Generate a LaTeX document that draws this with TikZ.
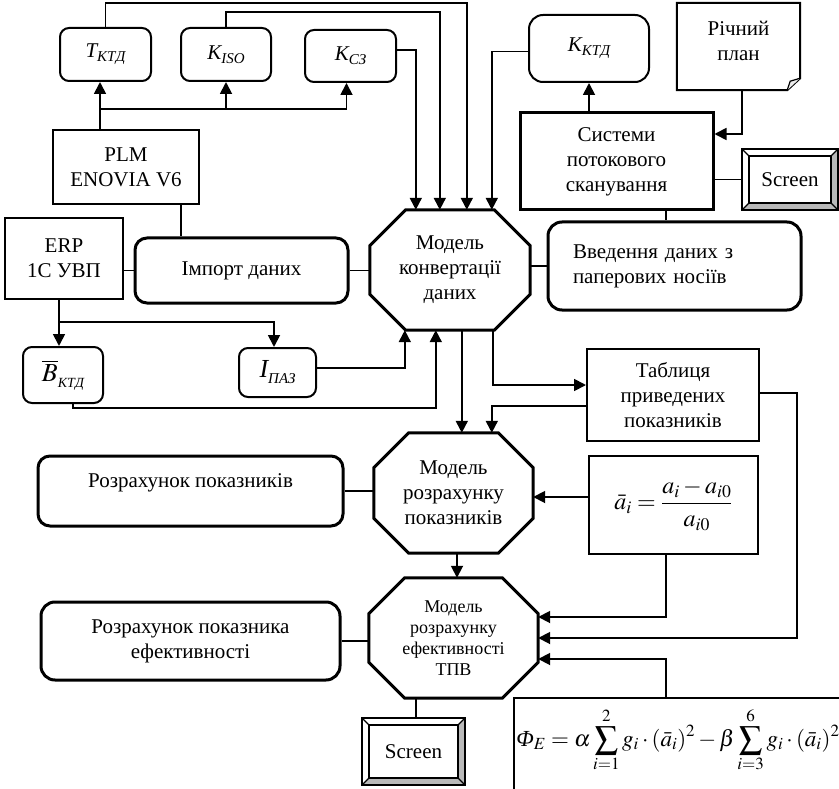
\documentclass[tikz,border=0pt]{standalone}
\usepackage{mathptmx}
\usepackage[no-math]{fontspec}
\setmainfont{Liberation Serif}
\usetikzlibrary{arrows.meta}

% italic symbol with a lowered small subscript
\newcommand\subtxt[2]{{\itshape #1\raisebox{-4pt}{\fontsize{15}{15}\selectfont #2}}}

% octagon drawn around an invisible rectangular node
\newcommand\octframe[2]{%
  \draw[line width=3pt, line join=miter]
    ([xshift=#2]#1.north west) -- ([xshift=-#2]#1.north east)
    -- ([yshift=-#2]#1.north east) -- ([yshift=#2]#1.south east)
    -- ([xshift=-#2]#1.south east) -- ([xshift=#2]#1.south west)
    -- ([yshift=#2]#1.south west) -- ([yshift=-#2]#1.north west) -- cycle;}

% bevelled "Screen" frame
\newcommand\bevel[1]{%
  \fill[gray!55] (#1.south west) -- (#1.south east) -- (#1.north east)
    -- ([xshift=-7pt,yshift=-7pt]#1.north east) -- ([xshift=-7pt,yshift=7pt]#1.south east)
    -- ([xshift=7pt,yshift=7pt]#1.south west) -- cycle;
  \draw[line width=1.5pt] ([xshift=7pt,yshift=-7pt]#1.north west) rectangle ([xshift=-7pt,yshift=7pt]#1.south east);
  \draw[line width=1.2pt] (#1.north west) -- ([xshift=7pt,yshift=-7pt]#1.north west)
    (#1.north east) -- ([xshift=-7pt,yshift=-7pt]#1.north east)
    (#1.south east) -- ([xshift=-7pt,yshift=7pt]#1.south east)
    (#1.south west) -- ([xshift=7pt,yshift=7pt]#1.south west);
  \draw[line width=2.5pt] (#1.north west) rectangle (#1.south east);}

\tikzset{
  base/.style={font=\fontsize{21}{25}\selectfont, align=center, inner sep=0pt},
  box/.style={base, draw, line width=2pt},
  rbox/.style={box, rounded corners=9pt},
  heavy/.style={base, draw, line width=3pt},
  rheavy/.style={heavy, rounded corners=12pt},
  conn/.style={line width=1.8pt},
  arr/.style={conn, -{Triangle[width=12pt,length=12pt]}},
}

\begin{document}
\begin{tikzpicture}[x=1pt, y=-1pt]
\useasboundingbox (0,0) rectangle (839,789);
\fill[white] (0,0) rectangle (839,789);

% ---- indicator boxes
\node[rbox, minimum width=91pt, minimum height=53pt] (tktd) at (105.5,54.5) {\subtxt{T}{КТД}};
\node[rbox, minimum width=90pt, minimum height=53pt] (kiso) at (226,54.5) {\subtxt{K}{ISO}};
\node[rbox, minimum width=91pt, minimum height=52pt] (kcz) at (350.5,56) {\subtxt{K}{СЗ}};
\node[rbox, rounded corners=14pt, minimum width=120pt, minimum height=67pt] (kktd) at (589,48.5) {\subtxt{K}{КТД}};

% ---- annual plan (document shape)
\node[base, minimum width=123pt, minimum height=87pt, text depth=12pt] (plan) at (738.5,46.5) {Річний\\план};
\draw[line width=2pt, line join=miter] (plan.north west) -- (plan.north east)
  -- ([yshift=12pt]plan.south east) -- ([xshift=-13pt]plan.south east)
  -- (plan.south west) -- cycle;
\draw[line width=1.2pt, fill=gray!15] ([xshift=-13pt]plan.south east)
  -- ([xshift=-10pt,yshift=9pt]plan.south east) -- ([yshift=12pt]plan.south east);

% ---- scanning system and screen
\node[heavy, minimum width=193pt, minimum height=97pt] (sys) at (616.5,161.5) {Системи\\потокового\\сканування};
\node[base, minimum width=96pt, minimum height=61pt] (scr1) at (790,179.5) {};
\bevel{scr1}
\node[base] at (scr1) {Screen};

\node[rheavy, rounded corners=14pt, text width=203pt, inner xsep=25pt, minimum height=88pt, align=left] (vved) at (674.5,266) {Введення даних з\\паперових носіїв};

% ---- source systems
\node[box, minimum width=146pt, minimum height=74pt] (plm) at (126,167) {PLM\\ENOVIA V6};
\node[box, minimum width=118pt, minimum height=81pt] (erp) at (64,258.5) {ERP\\1С УВП};
\node[rheavy, minimum width=213pt, minimum height=65pt] (imp) at (241.5,270.5) {Імпорт даних};

% ---- conversion model
\node[base, minimum width=160pt, minimum height=120pt] (oct1) at (450,270) {Модель\\конвертації\\даних};
\octframe{oct1}{36pt}

\node[rbox, minimum width=80pt, minimum height=56pt] (bktd) at (63,375)
  {{\fontsize{26}{26}\selectfont$\overline{B}$}\raisebox{-6pt}{\fontsize{14}{14}\selectfont\itshape КТД}};
\node[rbox, minimum width=77pt, minimum height=49pt] (ipaz) at (277.5,372.5)
  {{\fontsize{26}{26}\selectfont\itshape I}\raisebox{-6pt}{\fontsize{15}{15}\selectfont\itshape ПАЗ}};

\node[box, minimum width=172pt, minimum height=92pt] (tabl) at (673,395) {Таблиця\\приведених\\показників};

% ---- indicator model
\node[base, minimum width=159pt, minimum height=120pt] (oct2) at (453.5,493) {Модель\\розрахунку\\показників};
\octframe{oct2}{35pt}
\node[rheavy, minimum width=305pt, minimum height=70pt, text depth=20pt] (rozr1) at (190.5,491) {Розрахунок показників};
\node[box, minimum width=169pt, minimum height=98pt] (ai) at (673.5,505)
  {{\fontsize{24}{28}\selectfont$\displaystyle \bar{a}_i=\frac{a_i-a_{i0}}{a_{i0}}$}};

% ---- efficiency model
\node[base, font=\fontsize{18}{21}\selectfont, minimum width=169pt, minimum height=120pt] (oct3) at (453.5,638) {Модель\\розрахунку\\ефективності\\ТПВ};
\octframe{oct3}{36pt}
\node[rheavy, rounded corners=14pt, minimum width=299pt, minimum height=78pt] (rozr2) at (190.5,641) {Розрахунок показника\\ефективності};
\node[base, minimum width=103pt, minimum height=67pt] (scr2) at (413.5,751.5) {};
\bevel{scr2}
\node[base] at (scr2) {Screen};

\node[base, minimum width=325pt, minimum height=91pt] (phi) at (676.5,743.5) {};
\node[base, font=\fontsize{23}{27}\selectfont] (phitxt) at (678,740)
  {$\displaystyle \mbox{\itshape Φ}_E=\alpha\sum_{i=1}^{2}g_i\cdot(\bar{a}_i)^2-\beta\sum_{i=3}^{6}g_i\cdot(\bar{a}_i)^2$};
\draw[line width=2pt] (phi.south west) -- (phi.north west) -- (phi.north east);

% ---- connectors into the conversion model
\draw[arr] (tktd.north) -- ++(0,-24) -| ([xshift=97pt]oct1.north west);
\draw[arr] (kiso.north) -- ++(0,-15) -| ([xshift=70pt]oct1.north west);
\draw[arr] ([yshift=6pt]kcz.east) -| ([xshift=46pt]oct1.north west);
\draw[arr] ([yshift=-3pt]kktd.west) -| ([xshift=122pt]oct1.north west);

\coordinate (plmbus) at (100,109);
\draw[arr] (plmbus |- plm.north) -- (plmbus |- tktd.south);
\draw[arr] (plmbus) -| (kiso.south);
\draw[arr] (plmbus) -| ([xshift=-4pt]kcz.south);

\draw[arr] ([xshift=3.5pt]plan.south) |- ([yshift=27.5pt]sys.east);
\draw[arr] (kktd.south |- sys.north) -- (kktd.south);
\draw[conn] (sys.east |- scr1.west) -- (scr1.west);
\coordinate (sv) at ([xshift=-8.5pt]vved.north);
\draw[conn] (sv |- sys.south) -- (sv);
\draw[conn] (vved.west) -- (vved.west -| oct1.east);

\draw[conn] (imp.east) -- (imp.east -| oct1.west);
\draw[conn] (erp.east |- imp.west) -- (imp.west);
\coordinate (pi) at ([xshift=55pt]plm.south);
\draw[conn] (pi) -- (pi |- imp.north);

\coordinate (erpbus) at (59,322);
\draw[arr] (erpbus |- erp.south) -- (erpbus |- bktd.north);
\draw[arr] (erpbus) -| ([xshift=-3.5pt]ipaz.north);
\draw[arr] ([yshift=4.5pt]ipaz.east) -| ([xshift=35pt]oct1.south west);
\draw[arr] ([xshift=10pt]bktd.south) -- ++(0,4) -| ([xshift=66pt]oct1.south west);

% ---- connectors below the conversion model
\coordinate (c12) at ([xshift=92pt]oct1.south west);
\draw[arr] (c12) -- (c12 |- oct2.north);
\draw[arr] ([xshift=123pt]oct1.south west) |- ([yshift=10pt]tabl.west);
\draw[arr] ([yshift=-11pt]tabl.west) -| ([xshift=118pt]oct2.north west);
\draw[arr] ([yshift=2pt]tabl.east) -- ++(37,0) |- (oct3.east);

\coordinate (aw) at ([yshift=8pt]ai.west);
\draw[arr] (aw) -- (aw -| oct2.east);
\draw[arr] ([xshift=-7.5pt]ai.south) |- ([yshift=21pt]oct3.east);
\draw[arr] ([xshift=-10.5pt]phi.north) |- ([yshift=-21pt]oct3.east);

\draw[conn] (rozr1.east) -- (rozr1.east -| oct2.west);
\draw[conn] (rozr2.east) -- (rozr2.east -| oct3.west);
\coordinate (c23) at ([xshift=3.5pt]oct2.south);
\draw[arr] (c23) -- (c23 |- oct3.north);
\coordinate (c3s) at ([xshift=2.5pt]scr2.north);
\draw[conn] (c3s |- oct3.south) -- (c3s);
\end{tikzpicture}
\end{document}
